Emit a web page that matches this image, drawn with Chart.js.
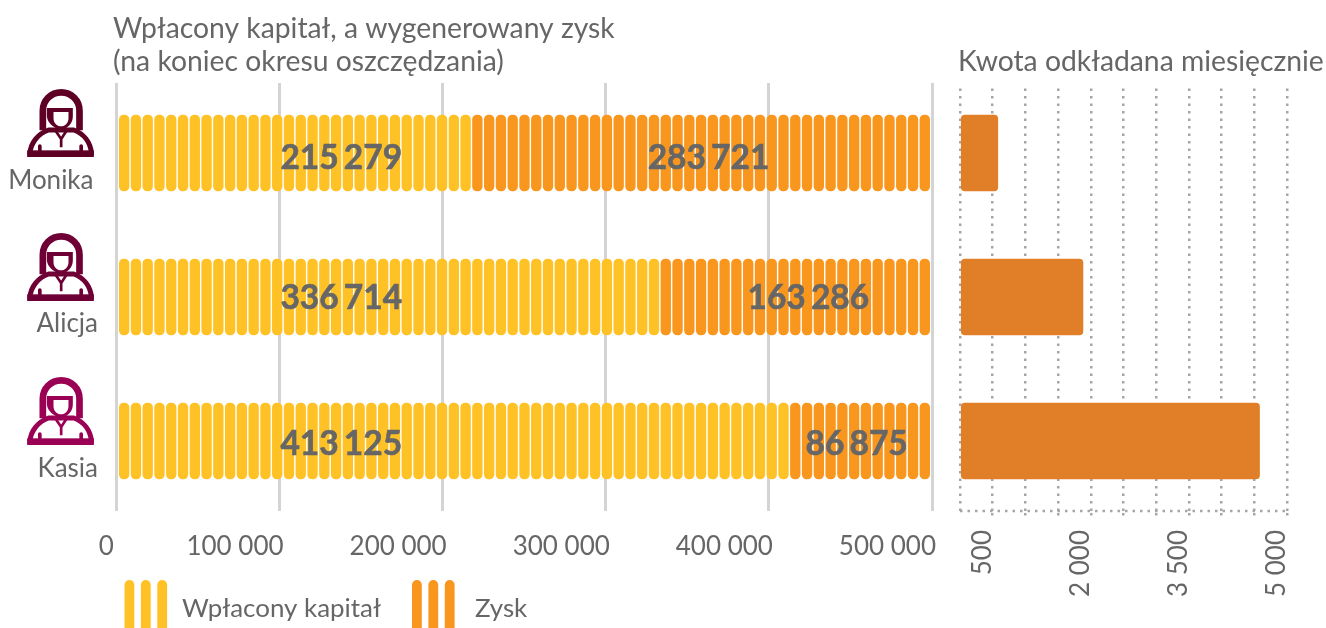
<!DOCTYPE html>
<html lang="pl">
<head>
<meta charset="utf-8">
<title>Wpłacony kapitał, a wygenerowany zysk</title>
<script src="https://cdn.jsdelivr.net/npm/chart.js@4"></script>
<style>
html,body{margin:0;padding:0;background:#fff;width:1326px;height:628px;overflow:hidden}
canvas{position:absolute;top:0}
#left{left:0}
#right{left:945px}
</style>
</head>
<body>
<canvas id="left" width="945" height="628"></canvas>
<canvas id="right" width="381" height="628"></canvas>
<script>
const names = ['Monika', 'Alicja', 'Kasia'];
const capital = [215279, 336714, 413125];
const profit = [283721, 163286, 86875];
const monthly = [578, 1880, 4580];
const capitalTicks = [0, 100000, 200000, 300000, 400000, 500000];
const monthlyTicks = [500, 2000, 3500, 5000];
const capitalLegend = 'Wpłacony kapitał';
const profitLegend = 'Zysk';
const leftTitle = ['Wpłacony kapitał, a wygenerowany zysk', '(na koniec okresu oszczędzania)'];
const rightTitle = 'Kwota odkładana miesięcznie';

const pillCount = 69;
const pillUnit = 500000 / pillCount;
const pillStart = 1717, pillStep = 7219, pillWidth = 5947;
const YELLOW = '#FFC226', ORANGE = '#F8961D', BAR = '#E07F28', INK = '#666666', DOT = '#A6A6A6';
const FAMILY = 'Lato, sans-serif';
const iconColors = ['#5E0026', '#6F0036', '#9A0054'];
const nameRight = [93.5, 98, 98];
const nameDrop = [28, 27, 28];
const capitalLabelAt = 137800;
const profitLabelShift = [9.5, 9.5, -4.5];
const labelBaselineShift = [16, 12, 14];

const fmt = v => String(v).replace(/\B(?=(\d{3})+$)/g, ' ');

const pillDatasets = [];
for (let i = 0; i < pillCount; i++) {
  const from = pillStart + i * pillStep;
  pillDatasets.push({
    data: names.map(() => [from, from + pillWidth]),
    backgroundColor: capital.map(c => i < Math.round(c / pillUnit) ? YELLOW : ORANGE),
    borderRadius: 5,
    borderSkipped: false,
    barThickness: 76,
    grouped: false
  });
}

function drawIcon(ctx, cx, cy, color) {
  ctx.save();
  ctx.translate(cx, cy);
  ctx.scale(1 / 3, 1 / 3);
  ctx.translate(-181, -130);
  ctx.strokeStyle = color; ctx.fillStyle = color;
  ctx.lineCap = 'butt'; ctx.lineJoin = 'round';
  ctx.lineWidth = 20;
  ctx.beginPath(); ctx.moveTo(128, 152); ctx.lineTo(128, 93);
  ctx.arc(183, 93, 55, Math.PI, 0); ctx.lineTo(238, 152); ctx.stroke();
  ctx.fill(new Path2D('M140 85H218V110C218 130 205 145 183 152C160 145 142 130 140 110ZM160 97V115C160 130 170 140 183 140C195 140 205 130 205 115V97Z'), 'evenodd');
  ctx.lineWidth = 15;
  ctx.stroke(new Path2D('M89 222C92 187 115 162 145 151L221 151C250 162 271 187 274 222Z'));
  ctx.fillRect(81, 212, 200, 20);
  ctx.lineWidth = 8;
  ctx.stroke(new Path2D('M165 152L183 178L200 152M183 178V203'));
  ctx.lineWidth = 11; ctx.lineCap = 'round';
  ctx.stroke(new Path2D('M119 212V199M243 212V199'));
  ctx.restore();
}

function legendPills(ctx, x0, color) {
  ctx.fillStyle = color;
  [0, 16.4, 32.8].forEach(dx => {
    ctx.beginPath();
    ctx.roundRect(x0 + dx, 580, 9.8, 60, 5);
    ctx.fill();
  });
}

const leftDecor = {
  id: 'leftDecor',
  beforeDatasetsDraw(chart) {
    const a = chart.chartArea, c = chart.ctx;
    c.clearRect(a.left - 4, a.top, a.right - a.left + 8, 2);
    c.clearRect(a.left - 4, a.bottom - 2, a.right - a.left + 8, 2);
  },
  afterDatasetsDraw(chart) {
    const c = chart.ctx, x = chart.scales.x, y = chart.scales.y;
    c.save();
    c.font = 'bold 33.5px ' + FAMILY;
    c.wordSpacing = '-3px';
    c.fillStyle = INK; c.strokeStyle = INK; c.lineWidth = 0.6;
    c.textAlign = 'center'; c.textBaseline = 'alphabetic';
    names.forEach((n, i) => {
      const py = y.getPixelForValue(i) + labelBaselineShift[i];
      const px1 = x.getPixelForValue(capitalLabelAt);
      const px2 = x.getPixelForValue(capital[i] + profit[i] / 2) + profitLabelShift[i];
      c.fillText(fmt(capital[i]), px1, py);
      c.strokeText(fmt(capital[i]), px1, py);
      c.fillText(fmt(profit[i]), px2, py);
      c.strokeText(fmt(profit[i]), px2, py);
    });
    c.restore();
  },
  afterDraw(chart) {
    const c = chart.ctx, y = chart.scales.y;
    names.forEach((n, i) => {
      const py = y.getPixelForValue(i);
      drawIcon(c, 60.5, py - 30, iconColors[i]);
      c.save();
      c.font = '26px ' + FAMILY;
      c.fillStyle = INK; c.textAlign = 'right'; c.textBaseline = 'middle';
      c.fillText(n, nameRight[i], py + nameDrop[i]);
      c.restore();
    });
    legendPills(c, 124.5, YELLOW);
    legendPills(c, 412, ORANGE);
    c.save();
    c.font = '25.9px ' + FAMILY;
    c.fillStyle = INK; c.textAlign = 'left'; c.textBaseline = 'middle';
    c.fillText(capitalLegend, 182, 609);
    c.fillText(profitLegend, 475, 609);
    c.restore();
  }
};

new Chart(document.getElementById('left'), {
  type: 'bar',
  data: { labels: names, datasets: pillDatasets },
  plugins: [leftDecor],
  options: {
    indexAxis: 'y', responsive: false, animation: false, events: [],
    layout: { padding: { left: 113, right: 13, top: 12, bottom: 0 } },
    plugins: {
      legend: { display: false }, tooltip: { enabled: false },
      title: {
        display: true, text: leftTitle, align: 'start', color: INK,
        font: { family: FAMILY, size: 28.3, weight: 'normal', lineHeight: 33 / 28.3 },
        padding: { top: 0, bottom: 3 }
      }
    },
    scales: {
      x: {
        type: 'linear', min: 0, max: 500000,
        afterBuildTicks(s) { s.ticks = capitalTicks.map(value => ({ value })); },
        afterFit(s) { s.height = 115; s.paddingLeft = 0; s.paddingRight = 0; },
        border: { display: false },
        grid: { color: '#D4D4D4', lineWidth: 3, drawTicks: false },
        ticks: {
          color: INK, font: { family: FAMILY, size: 26 }, padding: 18,
          align: 'end', labelOffset: 4, maxRotation: 0, autoSkip: false,
          callback: v => v === 0 ? '0\u00a0' : fmt(v)
        }
      },
      y: {
        afterFit(s) { s.width = 3.5; },
        border: { display: false }, grid: { display: false },
        ticks: { display: false }
      }
    }
  }
});

const rightDecor = {
  id: 'rightDecor',
  beforeDatasetsDraw(chart) {
    const a = chart.chartArea, c = chart.ctx;
    c.clearRect(a.left - 4, a.top, a.right - a.left + 8, 4);
    c.save();
    c.strokeStyle = DOT; c.lineWidth = 2.5; c.setLineDash([2.5, 5]);
    c.beginPath(); c.moveTo(a.left, 511); c.lineTo(a.right, 511); c.stroke();
    c.restore();
  }
};

new Chart(document.getElementById('right'), {
  type: 'bar',
  data: { labels: names, datasets: [{
    data: monthly, backgroundColor: BAR, borderRadius: 4, borderSkipped: false, barThickness: 76
  }] },
  plugins: [rightDecor],
  options: {
    indexAxis: 'y', responsive: false, animation: false, events: [],
    layout: { padding: { left: 13, right: 0, top: 45, bottom: 0 } },
    plugins: {
      legend: { display: false }, tooltip: { enabled: false },
      title: {
        display: true, text: rightTitle, align: 'start', color: INK,
        font: { family: FAMILY, size: 28.3, weight: 'normal', lineHeight: 33 / 28.3 },
        padding: { top: 0, bottom: 3 }
      }
    },
    scales: {
      x: {
        type: 'linear', min: 0, max: 5000,
        ticks: {
          stepSize: 500, color: INK, font: { family: FAMILY, size: 26 }, padding: 12,
          minRotation: 90, maxRotation: 90, autoSkip: false, labelOffset: -10,
          callback: v => monthlyTicks.includes(v) ? fmt(v) : ''
        },
        afterFit(s) { s.height = 115; s.paddingLeft = 0; s.paddingRight = 39; },
        border: { display: false, dash: [2.5, 5] },
        grid: {
          color: DOT, lineWidth: 2.5,
          drawTicks: true, tickLength: 5, tickBorderDash: [2.5, 5],
          tickColor: ctx => ctx.tick && ctx.tick.value === 0 ? 'transparent' : DOT
        }
      },
      y: {
        afterFit(s) { s.width = 2; },
        border: { display: false }, grid: { display: false },
        ticks: { display: false }
      }
    }
  }
});
</script>
</body>
</html>
